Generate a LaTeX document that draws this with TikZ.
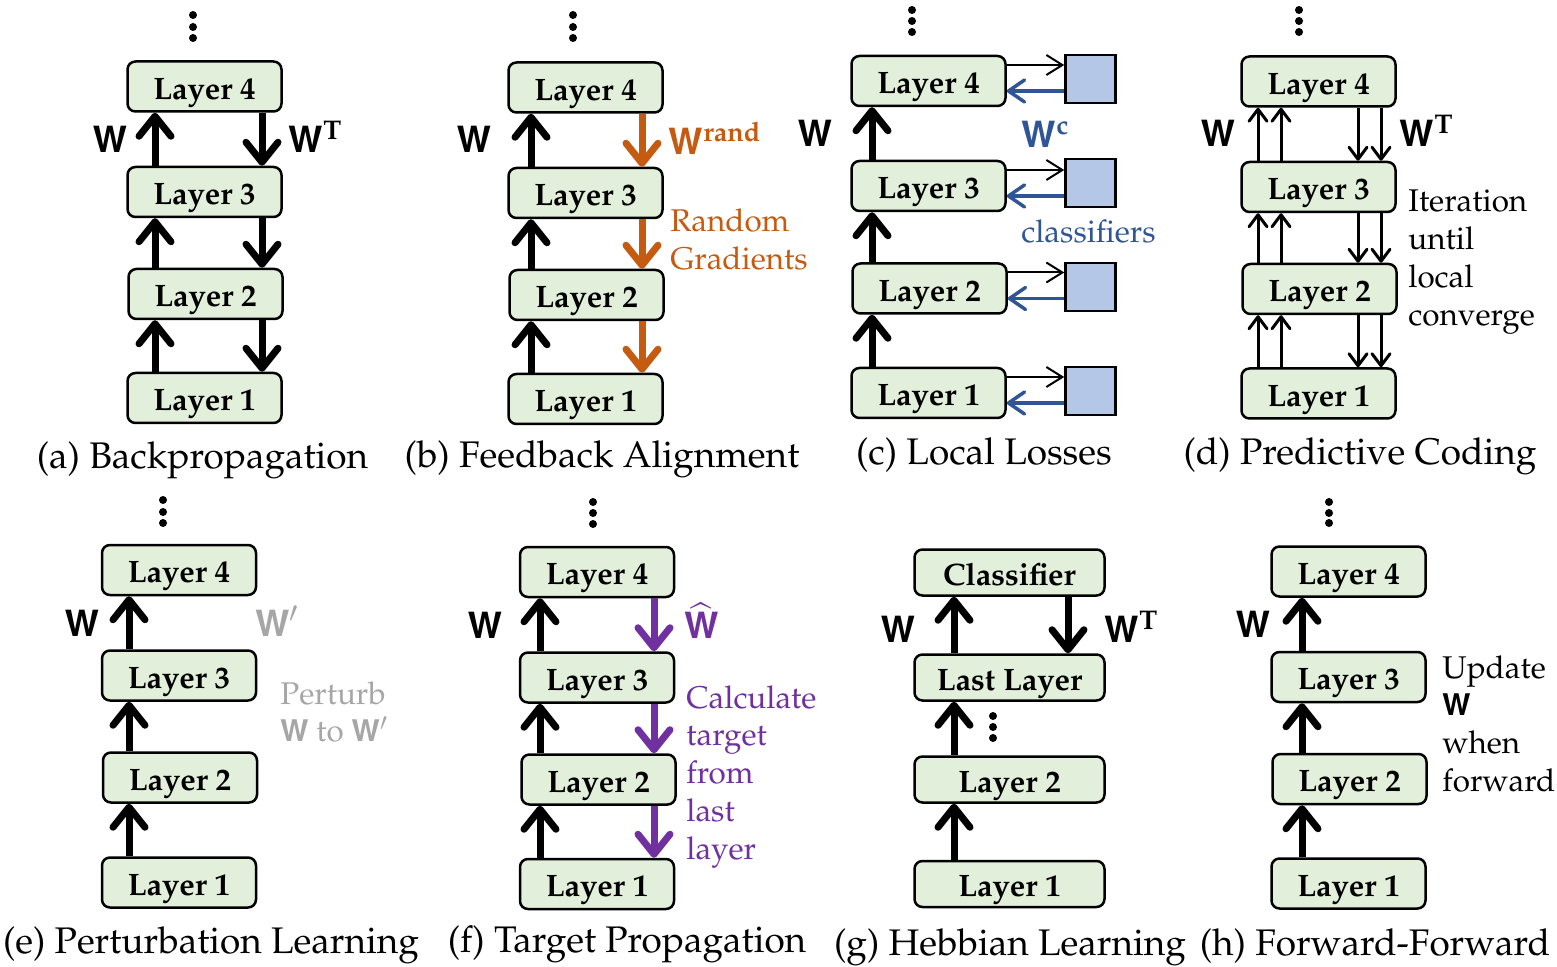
\documentclass[tikz,border=0pt]{standalone}
\usepackage[T1]{fontenc}
\usepackage{mathpazo}
\usepackage[scaled=0.95]{helvet}
\usepackage{tikz}
\usetikzlibrary{calc}
\usetikzlibrary{arrows.meta}

\definecolor{boxgreen}{HTML}{E2EFDA}
\definecolor{clsblue}{HTML}{B4C7E7}
\definecolor{darkblue}{HTML}{2F5597}
\definecolor{rustorange}{HTML}{C55A11}
\definecolor{tpurple}{HTML}{7030A0}
\definecolor{pgray}{HTML}{A6A6A6}

\newcommand{\Wb}{{\sffamily\bfseries W}}
\newcommand{\Wsup}[1]{\Wb\kern0.5pt\raisebox{6.5pt}{\fontsize{13.5}{13.5}\selectfont\rmfamily\bfseries #1}}
\newcommand{\lines}[1]{\begin{tabular}[t]{@{}l@{}}#1\end{tabular}}

\tikzset{
  layer/.style={draw, line width=1.25pt, rounded corners=4pt, fill=boxgreen,
    minimum width=77pt, minimum height=25pt, inner sep=0pt,
    text height=12.7pt, text depth=0pt,
    font=\fontsize{15.5}{18}\selectfont\bfseries},
  glayer/.style={layer, minimum width=95pt, minimum height=23pt},
  fwd/.style={line width=3.5pt, -{Straight Barb[length=10pt,width=16pt,round]}},
  fine/.style={line width=1.5pt, -{Straight Barb[length=6pt,width=9pt,round]}},
  lossout/.style={line width=1pt, -{Straight Barb[length=8pt,width=10pt]}},
  lossin/.style={darkblue, line width=1.75pt, -{Straight Barb[length=8pt,width=11pt,round]}},
  cls/.style={draw, line width=1.25pt, fill=clsblue, minimum width=25pt,
    minimum height=24pt, inner sep=0pt},
  caption/.style={font=\fontsize{18.5}{22}\selectfont, anchor=base, inner sep=0pt},
  side/.style={font=\fontsize{15.7}{18.9}\selectfont, anchor=base west, inner sep=0pt},
  wlab/.style={font=\fontsize{19}{22}\selectfont, inner sep=0pt}
}

\begin{document}
\begin{tikzpicture}[x=0.5pt,y=-0.5pt]
\useasboundingbox (0,0) rectangle (1557,967);

\node[layer] (a4) at (204.5,86.5) {Layer 4};
\node[layer] (a3) at (204.5,192) {Layer 3};
\node[layer] (a2) at (205.5,294) {Layer 2};
\node[layer] (a1) at (204.5,398) {Layer 1};
\foreach \y in {15,27,38} \fill (193,\y) circle[radius=2pt];
\draw[fwd] (155,0 |- a1.north) -- (155,0 |- a2.south);
\draw[fwd] (155,0 |- a2.north) -- (155,0 |- a3.south);
\draw[fwd] (155,0 |- a3.north) -- (155,0 |- a4.south);
\draw[fwd] (262,0 |- a4.south) -- (262,0 |- a3.north);
\draw[fwd] (262,0 |- a3.south) -- (262,0 |- a2.north);
\draw[fwd] (262,0 |- a2.south) -- (262,0 |- a1.north);
\node[wlab, anchor=base] (aw) at (110,153) {\Wb};
\node[wlab, anchor=base west] (awt) at (288,153) {\Wsup{T}};
\node[caption] (capa) at (202.5,469) {(a) Backpropagation};

\node[layer] (b4) at (585.5,87.5) {Layer 4};
\node[layer] (b3) at (585.5,193) {Layer 3};
\node[layer] (b2) at (586.5,295) {Layer 2};
\node[layer] (b1) at (585.5,399) {Layer 1};
\foreach \y in {15,27,38} \fill (573,\y) circle[radius=2pt];
\draw[fwd] (531,0 |- b1.north) -- (531,0 |- b2.south);
\draw[fwd] (531,0 |- b2.north) -- (531,0 |- b3.south);
\draw[fwd] (531,0 |- b3.north) -- (531,0 |- b4.south);
\draw[fwd, rustorange] (642,0 |- b4.south) -- (642,0 |- b3.north);
\draw[fwd, rustorange] (642,0 |- b3.south) -- (642,0 |- b2.north);
\draw[fwd, rustorange] (642,0 |- b2.south) -- (642,0 |- b1.north);
\node[wlab, anchor=base] (bw) at (474,153) {\Wb};
\node[wlab, anchor=base west, rustorange] (bwr) at (668,155) {\Wsup{rand}};
\node[side, rustorange] (bnote) at (670,232) {\lines{Random\\Gradients}};
\node[caption] (capb) at (602,468) {(b) Feedback Alignment};

\node[layer] (c4) at (928.5,81) {Layer 4};
\node[layer] (c3) at (928.5,186) {Layer 3};
\node[layer] (c2) at (929.5,288.5) {Layer 2};
\node[layer] (c1) at (928.5,393) {Layer 1};
\foreach \y in {10,21,32} \fill (912,\y) circle[radius=2pt];
\draw[fwd] (872,0 |- c1.north) -- (872,0 |- c2.south);
\draw[fwd] (872,0 |- c2.north) -- (872,0 |- c3.south);
\draw[fwd] (872,0 |- c3.north) -- (872,0 |- c4.south);
\node[cls] (c4s) at (1090.5,79) {};
\node[cls] (c3s) at (1090.5,183) {};
\node[cls] (c2s) at (1090.5,287) {};
\node[cls] (c1s) at (1090.5,391) {};
\draw[lossout] ([yshift=8pt]c4.east) -- ([yshift=7pt]c4s.west);
\draw[lossout] ([yshift=8pt]c3.east) -- ([yshift=6.5pt]c3s.west);
\draw[lossout] ([yshift=8pt]c2.east) -- ([yshift=7.25pt]c2s.west);
\draw[lossout] ([yshift=8pt]c1.east) -- ([yshift=7pt]c1s.west);
\draw[lossin] ([yshift=-6pt]c4s.west) -- ([yshift=-5pt]c4.east);
\draw[lossin] ([yshift=-6.5pt]c3s.west) -- ([yshift=-5pt]c3.east);
\draw[lossin] ([yshift=-5.75pt]c2s.west) -- ([yshift=-5pt]c2.east);
\draw[lossin] ([yshift=-6pt]c1s.west) -- ([yshift=-5pt]c1.east);
\node[wlab, anchor=base] (cw) at (815,147) {\Wb};
\node[wlab, anchor=base west, darkblue] (cwc) at (1021,148) {\Wsup{c}};
\node[side, darkblue] (cnote) at (1021,243) {classifiers};
\node[caption] (capc) at (984,465) {(c) Local Losses};

\node[layer] (d4) at (1318.5,81.5) {Layer 4};
\node[layer] (d3) at (1318.5,187) {Layer 3};
\node[layer] (d2) at (1319.5,289) {Layer 2};
\node[layer] (d1) at (1318.5,393.5) {Layer 1};
\foreach \y in {10,21,32} \fill (1299,\y) circle[radius=2pt];
\foreach \x in {1258,1281} {
  \draw[fine] (\x,0 |- d1.north) -- (\x,0 |- d2.south);
  \draw[fine] (\x,0 |- d2.north) -- (\x,0 |- d3.south);
  \draw[fine] (\x,0 |- d3.north) -- (\x,0 |- d4.south);
}
\foreach \x in {1358,1381} {
  \draw[fine] (\x,0 |- d4.south) -- (\x,0 |- d3.north);
  \draw[fine] (\x,0 |- d3.south) -- (\x,0 |- d2.north);
  \draw[fine] (\x,0 |- d2.south) -- (\x,0 |- d1.north);
}
\node[wlab, anchor=base] (dw) at (1218,147) {\Wb};
\node[wlab, anchor=base west] (dwt) at (1399,147) {\Wsup{T}};
\node[side] (dnote) at (1408,212) {\lines{Iteration\\until\\local\\converge}};
\node[caption] (capd) at (1360,465) {(d) Predictive Coding};

\node[layer] (e4) at (179,570) {Layer 4};
\node[layer] (e3) at (179,675.5) {Layer 3};
\node[layer] (e2) at (180,777.5) {Layer 2};
\node[layer] (e1) at (179,882.5) {Layer 1};
\foreach \y in {500,512,523} \fill (163,\y) circle[radius=2pt];
\draw[fwd] (129,0 |- e1.north) -- (129,0 |- e2.south);
\draw[fwd] (129,0 |- e2.north) -- (129,0 |- e3.south);
\draw[fwd] (129,0 |- e3.north) -- (129,0 |- e4.south);
\node[wlab, anchor=base] (ew) at (82,636) {\Wb};
\node[wlab, anchor=base west, pgray] (ewp) at (255,636) {\Wb$'$};
\node[side, pgray] (enote) at (280,704) {\lines{Perturb\\\Wb{} to \Wb$'$}};
\node[caption] (cape) at (211,953) {(e) Perturbation Learning};

\node[layer] (f4) at (597,572) {Layer 4};
\node[layer] (f3) at (597,677.5) {Layer 3};
\node[layer] (f2) at (598.5,779.5) {Layer 2};
\node[layer] (f1) at (597,884) {Layer 1};
\foreach \y in {502,513,524} \fill (593,\y) circle[radius=2pt];
\draw[fwd] (540,0 |- f1.north) -- (540,0 |- f2.south);
\draw[fwd] (540,0 |- f2.north) -- (540,0 |- f3.south);
\draw[fwd] (540,0 |- f3.north) -- (540,0 |- f4.south);
\draw[fwd, tpurple] (654,0 |- f4.south) -- (654,0 |- f3.north);
\draw[fwd, tpurple] (654,0 |- f3.south) -- (654,0 |- f2.north);
\draw[fwd, tpurple] (654,0 |- f2.south) -- (654,0 |- f1.north);
\node[wlab, anchor=base] (fw) at (485,638) {\Wb};
\node[wlab, anchor=base west, tpurple] (fwh) at (684,638) {$\widehat{\mbox{\Wb}}$};
\node[side, tpurple] (fnote) at (686,708) {\lines{Calculate\\target\\from\\last\\layer}};
\node[caption] (capf) at (627,952) {(f) Target Propagation};

\node[glayer] (g4) at (1009.5,572.5) {Classifier};
\node[glayer] (g3) at (1009.5,677.5) {Last Layer};
\node[glayer] (g2) at (1009.5,779.5) {Layer 2};
\node[glayer] (g1) at (1009.5,884) {Layer 1};
\foreach \y in {716,727,738} \fill (993,\y) circle[radius=2pt];
\draw[fwd] (954,0 |- g1.north) -- (954,0 |- g2.south);
\draw[fwd] (954,0 |- g2.north) -- (954,0 |- g3.south);
\draw[fwd] (954,0 |- g3.north) -- (954,0 |- g4.south);
\draw[fwd] (1068,0 |- g4.south) -- (1068,0 |- g3.north);
\node[wlab, anchor=base] (gw) at (898,642) {\Wb};
\node[wlab, anchor=base west] (gwt) at (1104,642) {\Wsup{T}};
\node[caption] (capg) at (1010,955) {(g) Hebbian Learning};

\node[layer] (h4) at (1348.5,571.5) {Layer 4};
\node[layer] (h3) at (1348.5,677) {Layer 3};
\node[layer] (h2) at (1349.5,779) {Layer 2};
\node[layer] (h1) at (1348.5,883.5) {Layer 1};
\foreach \y in {502,513,523} \fill (1329,\y) circle[radius=2pt];
\draw[fwd] (1302,0 |- h1.north) -- (1302,0 |- h2.south);
\draw[fwd] (1302,0 |- h2.north) -- (1302,0 |- h3.south);
\draw[fwd] (1302,0 |- h3.north) -- (1302,0 |- h4.south);
\node[wlab, anchor=base] (hw) at (1253,637) {\Wb};
\node[side] (hnote) at (1442,678) {\lines{Update\\\Wb\\when\\forward}};
\node[caption] (caph) at (1375,955) {(h) Forward-Forward};

\end{tikzpicture}
\end{document}
